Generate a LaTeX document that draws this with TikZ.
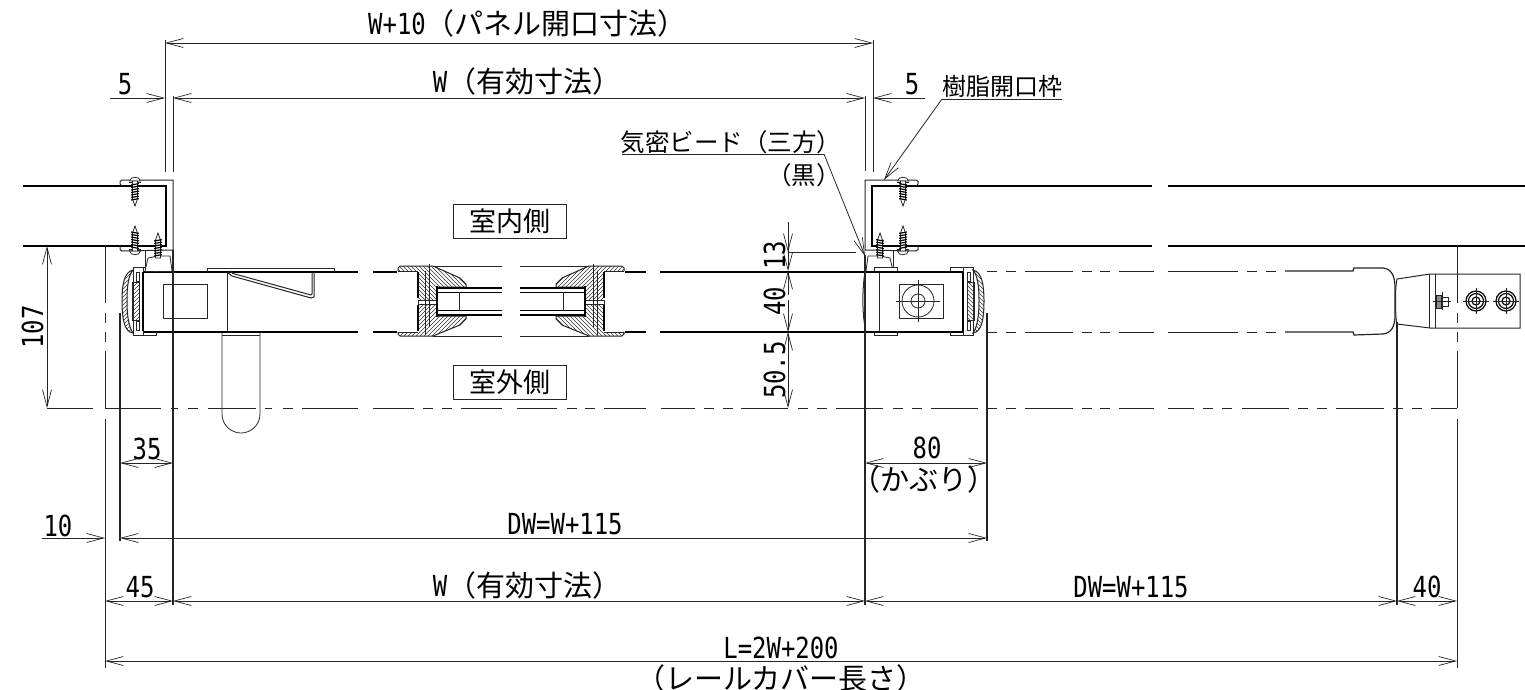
\documentclass[tikz,border=0pt]{standalone}
\usepackage{fontspec}
\usetikzlibrary{arrows.meta}
\setmainfont[FakeStretch=0.825]{DejaVu Sans Mono}
\newfontfamily\cjk{Noto Sans CJK JP}
\tikzset{
  av/.tip={Straight Barb[length=17pt,width=9pt,line width=0.7pt]},
  thinl/.style={line width=0.8pt,black!85},
  med/.style={line width=1pt,black!85},
  hat/.style={line width=0.6pt,black!80},
  thick2/.style={line width=1.9pt,black},
  dimline/.style={line width=0.8pt,black!85,av-av},
  onearrow/.style={line width=0.8pt,black!85,-av},
  lbl/.style={anchor=base,inner sep=0pt,font=\fontsize{29}{31}\selectfont},
  lbc/.style={anchor=base,inner sep=0pt,font=\fontsize{29}{31}\selectfont\cjk},
  lbs/.style={anchor=base,inner sep=0pt,font=\fontsize{24.5}{26}\selectfont\cjk},
  roombox/.style={draw,line width=0.8pt,black!85,text=black,minimum width=113pt,minimum height=34pt,inner sep=0pt,font=\fontsize{27}{29}\selectfont\cjk}
}
% hatch: #1 clip path, #2 = centre x, #3 = centre y, #4 = direction
\newcommand{\myhatch}[4]{%
 \begin{scope}
 \clip #1;
 \foreach \k in {-120,-116,...,120}{\draw[hat] (#2+\k-70*#4,#3-70)--(#2+\k+70*#4,#3+70);}
 \end{scope}}
% screw: origin at head side, dir = +1 down / -1 up
\newcommand{\myscrew}[3]{%
\begin{scope}[shift={(#1,#2)},yscale=#3]
 \draw[thinl,fill=white] (-5.5,5) -- (5.5,5) .. controls (5,0) and (-5,0) .. (-5.5,5) -- cycle;
 \draw[thinl] (-6,6.5)--(6,6.5);
 \draw[thinl,fill=white] (-2.5,5)--(-2.5,23)--(0,30)--(2.5,23)--(2.5,5)--cycle;
 \foreach \t in {9,11.5,...,24}{\draw[line width=1.2pt,black] (-3.8,\t)--(3.8,\t-1.4);}
\end{scope}}
\newcommand{\mytipscrew}[2]{%
\begin{scope}[shift={(#1,#2)}]
 \draw[thinl,fill=white] (-2.5,7)--(0,0)--(2.5,7)--(2.5,25)--(-2.5,25)--cycle;
 \foreach \t in {8,10.5,...,24}{\draw[line width=1.2pt,black] (-3.8,\t)--(3.8,\t-1.4);}
\end{scope}}
% wall bracket, in left coordinates
\newcommand{\mybracket}{%
 \draw[med] (122,186)--(120,184)--(120,181.5)--(122,180)--(173,180)--(173,250)--(122,251)--(120,249.5)--(120,247);
 \draw[thick2] (122,186)--(166,186)--(166,246)--(122,246);
 \myscrew{135}{176}{1}
 \myscrew{135}{256}{-1}
 \draw[thinl] (145,250)--(145,271);
 \draw[thinl,fill=white] (145,271)--(148,258)--(158,256)--(170,256)--(172,271);
 \mytipscrew{158}{233}
}
% rail end, in left coordinates
\newcommand{\myrailend}{%
 \draw[thinl,fill=white] (133,267) rectangle (143,335);
 \draw[thinl] (143,267)--(156,267)--(156,271.5);
 \draw[thinl] (143,335)--(156,335)--(156,331.5);
 \myhatch{(132,282) rectangle (139,320)}{135}{301}{-1}
 \draw[thinl] (132,282) rectangle (139,320);
 \draw[thinl] (136,272) rectangle (139,281);
 \draw[thinl] (136,321) rectangle (139,330);
 \myhatch{(133,270) .. controls (124,272) and (122,285) .. (122,301) .. controls (122,318) and (124,332) .. (133,333) .. controls (128,326) and (127,312) .. (127,301) .. controls (127,288) and (128,276) .. (133,270) -- cycle}{127}{301}{-1}
 \draw[med] (133,270) .. controls (124,272) and (122,285) .. (122,301) .. controls (122,318) and (124,332) .. (133,333) .. controls (128,326) and (127,312) .. (127,301) .. controls (127,288) and (128,276) .. (133,270) -- cycle;
 \draw[thick2] (143,272)--(143,331);
}
% centre stile, in left coordinates
\newcommand{\mystile}{%
 \myhatch{(400,266)--(433,266)--(460,278)--(466,284)--(466,287)--(437,287)--(437,301)--(418,301)--(418,271)--(398,271)--(398,268)--cycle}{430}{285}{1}
 \myhatch{(400,336)--(433,336)--(460,325)--(466,319)--(466,316)--(437,316)--(437,301)--(418,301)--(418,332)--(398,332)--(398,334)--cycle}{430}{318}{-1}
 \draw[med] (400,266)--(433,266)--(460,278)--(466,284)--(466,287)--(437,287);
 \draw[med] (398,271)--(398,268)--(400,266);
 \draw[med] (400,336)--(433,336)--(460,325)--(466,319)--(466,316)--(437,316);
 \draw[med] (398,332)--(398,334)--(400,336);
 \draw[thinl] (398,271)--(418,271) (398,332)--(418,332);
 \draw[thinl,fill=white] (418,300)--(437,300)--(437,304)--(418,304)--cycle;
 \draw[thick2] (418,272)--(418,298) (418,305)--(418,331);
 \draw[thick2] (437,286)--(437,317);
 \draw[thinl] (429,264)--(429,327) (425,271)--(425,335);
 \draw[thick2,line width=1.2pt] (438,288)--(502,288) (438,292.5)--(502,292.5) (438,310.5)--(502,310.5) (438,315)--(502,315);
 \draw[thinl] (459,292)--(459,311);
 \draw[thinl] (433,266)--(502,266) (433,336)--(502,336);
}
\begin{document}
\begin{tikzpicture}[x=1pt,y=-1pt]
\useasboundingbox (0,0) rectangle (1525,690);
\fill[white] (0,0) rectangle (1525,690);

% walls
\draw[thick2,line width=1.5pt] (23,186)--(166,186) (23,246)--(166,246);
\draw[thick2,line width=1.5pt] (871,186)--(1152,186) (1168,186)--(1525,186);
\draw[thick2,line width=1.5pt] (871,246)--(1152,246) (1168,246)--(1525,246);

% centre lines
\foreach \a/\b in {47/93,105/161,171/178,188/198,208/256,265/272,283/293,302/358,373/414,423/433,442/452,461/502,517/557,567/577,585/595,604/646,661/695,704/714,723/733,741/788,798/808,817/827,836/883,893/903,912/922,931/978,987/997,1006/1016,1025/1073,1082/1092,1100/1110,1119/1154,1168/1194,1203/1213,1222/1232,1242/1289,1298/1308,1317/1327,1336/1384,1393/1403,1412/1422,1431/1457}
  {\draw[thinl] (\a,408)--(\b,408);}
\foreach \x in {105,1457}{
 \foreach \a/\b in {246/303,313/323,332/342,351/408,419/668}
  {\draw[thinl] (\x,\a)--(\x,\b);}
}
\foreach \a/\b in {987/997,1006/1016,1025/1073,1082/1092,1100/1110,1119/1154,1168/1238,1247/1257,1266/1276}
  {\draw[thinl,line width=1pt] (\a,271)--(\b,271) (\a,332)--(\b,332);}

% panel lines
\draw[thick2,line width=1.5pt] (143,272)--(358,272) (143,332)--(358,332);
\draw[thick2,line width=1.5pt] (373,272)--(397,272) (373,332)--(397,332);
\draw[thick2,line width=1.5pt] (625,272)--(646,272) (660,272)--(865,272) (625,332)--(646,332) (660,332)--(865,332);

% left rail
\draw[thinl] (163,284) rectangle (207,318);
\draw[thinl] (227,272)--(227,331);
\draw[med] (207,272)--(207,268)--(334,268)--(334,272);
\draw[med] (228,273)--(232,276)--(311,298)--(314,297)--(314,272);
\draw[med] (230,271)--(233,273.5)--(311,295)--(312,294)--(312,272);
\draw[thinl] (222,333)--(222,414) .. controls (222,425) and (231,433) .. (241,433) .. controls (251,433) and (260,425) .. (260,414) --(260,333);
\draw[thinl] (222,335)--(260,335);
\myrailend
\mybracket

% right bracket and rail
\begin{scope}[xshift=1038pt,xscale=-1]
\mybracket
\end{scope}
\draw[thinl] (879,272) -- (879,331) (963,272)--(963,331);
\draw[med] (865,272) .. controls (862,290) and (862,315) .. (866,332);
\draw[thinl,fill=white] (874,267) rectangle (897,271);
\draw[thinl,fill=white] (874,332) rectangle (897,335);
\draw[thinl] (899,284) rectangle (943,318);
\draw[thinl] (918,301) circle[radius=16pt] (918,301) circle[radius=7pt];
\draw[thinl] (896,301)--(940,301) (918,280)--(918,322);
\draw[thick2,line width=1.5pt] (865,272)--(963,272) (865,332)--(963,332);
\begin{scope}[xshift=1106pt,xscale=-1]
\myrailend
\end{scope}

% centre stiles
\mystile
\begin{scope}[xshift=1022pt,xscale=-1]
\mystile
\end{scope}

% far right rail end
\draw[med,line width=1.2pt] (1285,271)--(1353,271)--(1354,268)--(1383,268) .. controls (1391,269) and (1395,275) .. (1395,288) -- (1395,315) .. controls (1395,327) and (1391,333) .. (1383,334)--(1354,335)--(1353,332)--(1285,332);
\draw[med] (1397,279)--(1430,274)--(1520,274)--(1520,328)--(1430,328)--(1397,324);
\draw[med] (1397,279) .. controls (1395,285) and (1395,318) .. (1397,324);
\draw[med] (1429,274)--(1429,328) (1435,274)--(1435,328);
\draw[thinl,fill=black!45] (1436,295) rectangle (1441,308);
\draw[thinl] (1441,297) rectangle (1448,306);
\draw[thinl] (1433,301)--(1451,301) (1442,292)--(1442,310);
\foreach \c in {1476,1506}{
 \draw[line width=1.2pt] (\c,301) circle[radius=10pt] (\c,301) circle[radius=7.5pt] (\c,301) circle[radius=4pt];
 \draw[thinl] (\c-13,301)--(\c+13,301) (\c,288)--(\c,314);
}

% extension lines
\draw[thinl] (165,40)--(165,172) (873,40)--(873,172);
\draw[thinl] (173,96)--(173,172) (865,96)--(865,171);
\draw[thinl,line width=1.2pt] (173,250)--(173,605) (865,255)--(865,605);
\draw[thinl,line width=1.1pt] (120,313)--(120,541) (987,313)--(987,541) (1397,322)--(1397,605);

% dimension lines
\draw[dimline] (165,43)--(873,43);
\draw[dimline] (173,98)--(865,98);
\draw[onearrow] (110,98)--(165,98);
\draw[onearrow] (925,98)--(873,98);
\draw[dimline] (47,246)--(47,408);
\draw[dimline] (120,463)--(173,463);
\draw[dimline] (865,463)--(987,463);
\draw[onearrow] (42,538)--(105,538);
\draw[dimline] (120,538)--(987,538);
\draw[dimline] (105,601)--(173,601);
\draw[dimline] (173,601)--(865,601);
\draw[dimline] (865,601)--(1397,601);
\draw[dimline] (1397,601)--(1457,601);
\draw[dimline] (105,661)--(1457,661);
% stacked dims
\draw[thinl] (788,222)--(788,252);
\draw[thinl] (788,252)--(856,252);
\draw[onearrow] (788,225)--(788,252);
\draw[onearrow] (788,295)--(788,271);
\draw[onearrow] (788,250)--(788,271);
\draw[onearrow] (788,300)--(788,332);
\draw[dimline] (788,332)--(788,408);

% leaders
\draw[thinl] (622,154)--(824,154);
\draw[onearrow] (824,154)--(865,256);
\draw[thinl] (942,99)--(1062,99);
\draw[onearrow] (942,99)--(884,180);

% labels
\node[lbl] (t1) at (527.5,35) {W+10{\cjk（パネル開口寸法）}};
\node[lbl] (t2) at (527,93) {W{\cjk（有効寸法）}};
\node[lbl] (t3) at (125,95) {5};
\node[lbl] (t4) at (912,95) {5};
\node[lbs,font=\fontsize{24}{26}\selectfont\cjk] (t5) at (1002,96) {樹脂開口枠};
\node[lbs] (t6) at (731,151) {気密ビード（三方）};
\node[lbs,anchor=base east] (t7) at (841,184) {（黒）};
\node[roombox] (r1) at (509.5,221.5) {室内側};
\node[roombox] (r2) at (509.5,382) {室外側};
\node[lbl,rotate=90] (t8) at (43,327) {107};
\node[lbl,rotate=90] (t9) at (785,255) {13};
\node[lbl,rotate=90] (t10) at (785,301) {40};
\node[lbl,rotate=90] (t11) at (785,370) {50.5};
\node[lbl] (t12) at (147,459) {35};
\node[lbl] (t13) at (927,458) {80};
\node[lbc] (t14) at (924,490) {（かぶり）};
\node[lbl] (t15) at (58,536) {10};
\node[lbl] (t16) at (565,534) {DW=W+115};
\node[lbl] (t17) at (140,597) {45};
\node[lbl] (t18) at (527,596) {W{\cjk（有効寸法）}};
\node[lbl] (t19) at (1131,597) {DW=W+115};
\node[lbl] (t20) at (1427,597) {40};
\node[lbl] (t21) at (781,658) {L=2W+200};
\node[lbc] (t22) at (781,689) {（レールカバー長さ）};
\end{tikzpicture}
\end{document}
